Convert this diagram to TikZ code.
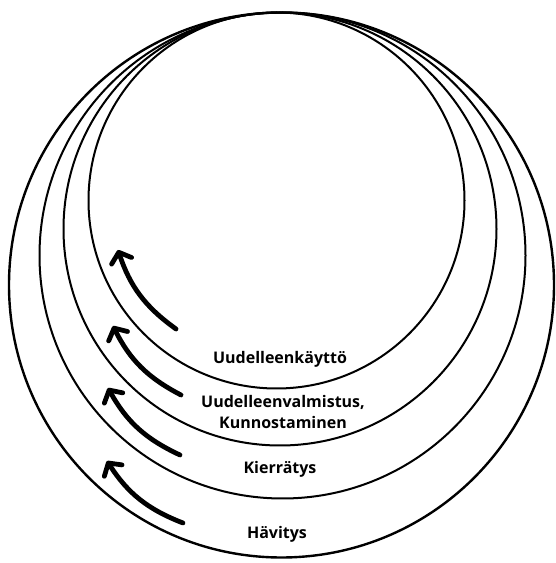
\documentclass[tikz,border=0pt]{standalone}
\usepackage{fontspec}
\setmainfont{Open Sans}
\usetikzlibrary{arrows.meta}
\tikzset{
  ring/.style={draw=black, line width=2pt},
  outerring/.style={draw=black, line width=2.4pt},
  flow/.style={line width=4.8pt, line cap=round, -{Straight Barb[length=9pt, width=21pt, round]}},
  lbl/.style={font=\fontsize{16}{21.5}\selectfont\bfseries, align=center, inner sep=0pt}
}
\begin{document}
\begin{tikzpicture}[x=1pt,y=1pt]
\useasboundingbox (0,0) rectangle (555,563);
% rings
\draw[outerring] (281.5,278) circle[radius=272.5];
\draw[ring] (282.5,307.5) circle[radius=243];
\draw[ring] (280,334) circle[radius=216.5];
\draw[ring] (276.5,362.5) circle[radius=188];
% arrow end points
\coordinate (t1) at (176,234); \coordinate (h1) at (118,313);
\coordinate (t2) at (181,168); \coordinate (h2) at (113,237);
\coordinate (t3) at (180,108); \coordinate (h3) at (108,175);
\coordinate (t4) at (183,40);  \coordinate (h4) at (107,102);
\draw[flow] (t1) to[bend left=18] (h1);
\draw[flow] (t2) to[bend left=18] (h2);
\draw[flow] (t3) to[bend left=18] (h3);
\draw[flow] (t4) to[bend left=18] (h4);
% labels
\node[lbl] (reuse) at (280,204) {Uudelleenkäyttö};
\node[lbl] (reman) at (283,151) {Uudelleenvalmistus,\\Kunnostaminen};
\node[lbl] (recycle) at (280,94) {Kierrätys};
\node[lbl] (dispose) at (277,29) {Hävitys};
\end{tikzpicture}
\end{document}
